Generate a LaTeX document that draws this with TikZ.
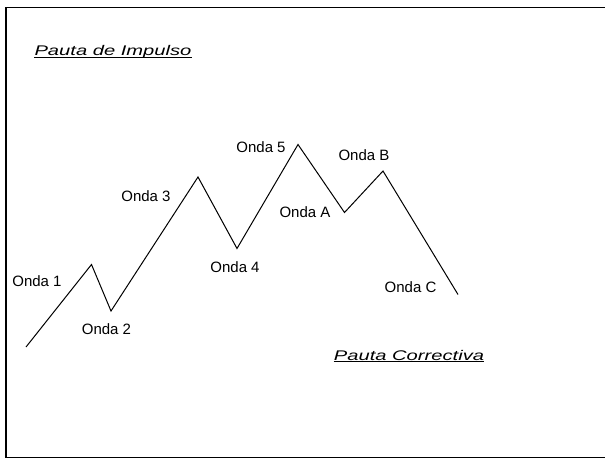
\documentclass[tikz,border=0pt]{standalone}
\usepackage{fontspec}
\setmainfont{Liberation Sans}
\begin{document}
\begin{tikzpicture}[x=1pt,y=-1pt,
  wave/.style={draw=black,line width=1pt,line join=miter},
  frame/.style={draw=black,line width=1.6pt},
  lbl/.style={inner sep=0pt,font=\fontsize{15}{18}\selectfont},
  title/.style={inner sep=0pt},
  uline/.style={draw=black,line width=1pt}]
\useasboundingbox[fill=white] (0,0) rectangle (605,466);
% frame (right side lies outside the image)
\coordinate (f1) at (610,7.5);
\coordinate (f2) at (6,7.5);
\coordinate (f3) at (6,457.5);
\coordinate (f4) at (610,457.5);
\begin{scope}
\clip (0,0) rectangle (605,466);
\draw[frame] (f1) -- (f2) -- (f3) -- (f4);
\end{scope}
% wave points
\coordinate (s)  at (26,347);
\coordinate (w1) at (91.5,264.5);
\coordinate (w2) at (111,311);
\coordinate (w3) at (198,177);
\coordinate (w4) at (237,248.5);
\coordinate (w5) at (298,144.5);
\coordinate (wa) at (344.5,212.5);
\coordinate (wb) at (383,171);
\coordinate (wc) at (458,294.5);
\draw[wave] (s) -- (w1) -- (w2) -- (w3) -- (w4) -- (w5) -- (wa) -- (wb) -- (wc);
% labels
\node[lbl] (l1) at (37,281.5) {Onda 1};
\node[lbl] (l2) at (106.5,329) {Onda 2};
\node[lbl] (l3) at (146,196.5) {Onda 3};
\node[lbl] (l4) at (235,267) {Onda 4};
\node[lbl] (l5) at (261,147) {Onda 5};
\node[lbl] (la) at (305,212.5) {Onda A};
\node[lbl] (lb) at (364,155) {Onda B};
\node[lbl] (lc) at (410.5,287.5) {Onda C};
% titles
\node[title] (pi) at (113,52) {\scalebox{1.44}[1]{\fontsize{14}{16}\selectfont\itshape Pauta de Impulso}};
\node[title] (pc) at (409,355) {\scalebox{1.44}[1]{\fontsize{14}{16}\selectfont\itshape Pauta Correctiva}};
\draw[uline] ([yshift=-1.5pt]pi.base west) -- ([yshift=-1.5pt]pi.base east);
\draw[uline] ([yshift=-1.5pt]pc.base west) -- ([yshift=-1.5pt]pc.base east);
\end{tikzpicture}
\end{document}
